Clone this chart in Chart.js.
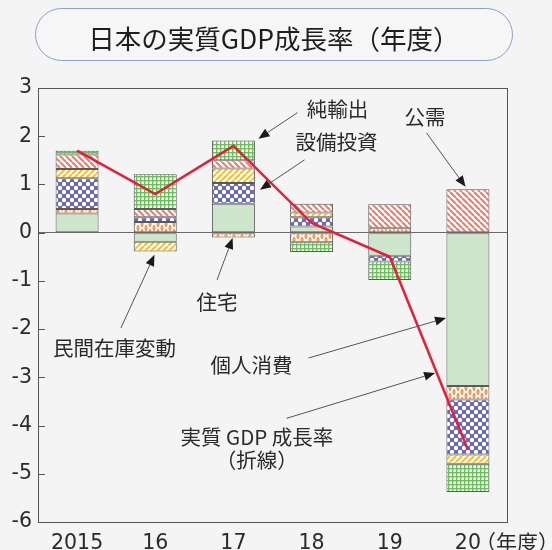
<!DOCTYPE html>
<html lang="ja">
<head>
<meta charset="utf-8">
<script src="https://cdn.jsdelivr.net/npm/chart.js@4/dist/chart.umd.min.js"></script>
<style>
    html, body { margin: 0; padding: 0; background: #f4f4f4; }
    #wrap { position: relative; width: 552px; height: 550px; overflow: hidden; }
    #title {
        position: absolute; left: 35px; top: 8px; width: 478px; height: 53px;
        box-sizing: border-box; border: 1.5px solid #8aa0c8; border-radius: 27px;
        background: #f6f6f6; color: #1e1e1e;
        font: 26.5px "Noto Sans CJK JP", sans-serif;
        display: flex; align-items: center; justify-content: center; padding-top: 5px;
    }
    canvas { position: absolute; left: 0; top: 0; }
</style>
</head>
<body>
<div id="wrap">
    <canvas id="gdpChart" width="552" height="550"></canvas>
    <div id="title">日本の実質GDP成長率（年度）</div>
</div>
<script>
// Fiscal years and contributions (percentage points)
const years = ['2015', '16', '17', '18', '19', '20'];
const consumption  = [0.40, -0.19, 0.60, 0.13, -0.48, -3.18];  // 個人消費
const housing      = [0.09, 0.22, -0.10, -0.20, 0.09, -0.28];  // 住宅
const capex        = [0.64, 0.10, 0.43, 0.19, -0.12, -1.14];   // 設備投資
const inventory    = [0.19, -0.20, 0.30, 0.10, null, -0.19];   // 民間在庫変動
const publicDemand = [0.30, 0.17, 0.17, 0.18, 0.50, 0.90];     // 公需
const netExports   = [0.08, 0.72, 0.41, -0.20, -0.38, -0.59];  // 純輸出
const gdpGrowth    = [1.7, 0.8, 1.8, 0.2, -0.5, -4.5];         // 実質GDP成長率
const yTicks = [3, 2, 1, 0, -1, -2, -3, -4, -5, -6];

// Callout labels, placed in data units (category index, value)
const callouts = [
    { lines: ['純輸出'], at: [3.33, 2.55], from: [2.82, 2.49], to: [2.32, 1.95] },
    { lines: ['設備投資'], at: [3.32, 1.87], from: [2.91, 1.51], to: [2.34, 0.89] },
    { lines: ['公需'], at: [4.45, 2.40], from: [4.47, 2.07], to: [4.97, 0.95] },
    { lines: ['住宅'], at: [1.79, -1.44], from: [1.79, -0.98], to: [1.99, -0.11] },
    { lines: ['民間在庫変動'], at: [0.48, -2.39], from: [0.56, -1.98], to: [0.99, -0.46] },
    { lines: ['個人消費'], at: [2.23, -2.75], from: [2.96, -2.60], to: [4.72, -1.77] },
    { lines: ['実質 GDP 成長率', '（折線）'], at: [2.30, -4.24], from: [2.68, -3.85], to: [4.58, -2.91] }
];

function makeTile(w, h, draw) {
    const c = document.createElement('canvas');
    c.width = w;
    c.height = h;
    const g = c.getContext('2d');
    g.fillStyle = '#ffffff';
    g.fillRect(0, 0, w, h);
    draw(g);
    return document.getElementById('gdpChart').getContext('2d').createPattern(c, 'repeat');
}

function stripes(color, rising) {
    return makeTile(6, 6, g => {
        g.strokeStyle = color;
        g.lineWidth = 2;
        for (let k = -6; k <= 6; k += 6) {
            g.beginPath();
            if (rising) {
                g.moveTo(k, 6); g.lineTo(k + 6, 0);
            } else {
                g.moveTo(k, 0); g.lineTo(k + 6, 6);
            }
            g.stroke();
        }
    });
}

const gridPattern = makeTile(4, 4, g => {
    g.fillStyle = '#6cbf5c';
    g.fillRect(0, 0, 4, 1.4);
    g.fillRect(0, 0, 1.4, 4);
});

const circlePattern = makeTile(8, 8, g => {
    g.fillStyle = '#6565b0';
    g.fillRect(0, 0, 8, 8);
    g.fillStyle = '#ffffff';
    [[0, 0], [8, 0], [0, 8], [8, 8], [4, 4]].forEach(p => {
        g.beginPath();
        g.arc(p[0], p[1], 2.2, 0, Math.PI * 2);
        g.fill();
    });
});

const trianglePattern = makeTile(8, 8, g => {
    g.fillStyle = '#f0873a';
    const tri = (x, y, up) => {
        g.beginPath();
        if (up) {
            g.moveTo(x, y + 3.8); g.lineTo(x + 1.9, y + 0.2); g.lineTo(x + 3.8, y + 3.8);
        } else {
            g.moveTo(x, y + 0.2); g.lineTo(x + 3.8, y + 0.2); g.lineTo(x + 1.9, y + 3.8);
        }
        g.closePath();
        g.fill();
    };
    tri(0.1, 0, true); tri(4.1, 0, false);
    tri(0.1, 4, false); tri(4.1, 4, true);
});

function barSet(label, data, fill) {
    return {
        type: 'bar',
        label: label,
        data: data,
        backgroundColor: fill,
        borderColor: '#5a5a5a',
        borderWidth: 1,
        borderSkipped: false,
        barPercentage: 0.55,
        categoryPercentage: 1,
        order: 1
    };
}

const frameAndCallouts = {
    id: 'frameAndCallouts',
    afterDatasetsDraw(chart) {
        const ctx = chart.ctx;
        const area = chart.chartArea;
        const xs = chart.scales.x;
        const ys = chart.scales.y;
        const px = p => [xs.getPixelForValue(p[0]), ys.getPixelForValue(p[1])];

        ctx.save();
        // plot frame and inward ticks
        ctx.strokeStyle = '#555';
        ctx.lineWidth = 1;
        ctx.strokeRect(Math.round(area.left) + 0.5, Math.round(area.top) + 0.5,
            Math.round(area.width), Math.round(area.height));
        yTicks.forEach(v => {
            const y = Math.round(ys.getPixelForValue(v)) + 0.5;
            ctx.beginPath();
            ctx.moveTo(area.left, y);
            ctx.lineTo(area.left + 7, y);
            ctx.stroke();
        });

        // callouts
        ctx.font = '20.5px "Noto Sans CJK JP", sans-serif';
        ctx.fillStyle = '#2a2a2a';
        ctx.textAlign = 'center';
        ctx.textBaseline = 'middle';
        callouts.forEach(c => {
            const t = px(c.at);
            c.lines.forEach((line, i) => ctx.fillText(line, t[0], t[1] + i * 23));

            const a = px(c.from);
            const b = px(c.to);
            const ang = Math.atan2(b[1] - a[1], b[0] - a[0]);
            const headLen = 11;
            const bx = b[0] - Math.cos(ang) * headLen;
            const by = b[1] - Math.sin(ang) * headLen;
            ctx.strokeStyle = '#555';
            ctx.lineWidth = 1;
            ctx.beginPath();
            ctx.moveTo(a[0], a[1]);
            ctx.lineTo(bx, by);
            ctx.stroke();
            ctx.fillStyle = '#1a1a1a';
            ctx.beginPath();
            ctx.moveTo(b[0], b[1]);
            ctx.lineTo(bx + Math.sin(ang) * 4.5, by - Math.cos(ang) * 4.5);
            ctx.lineTo(bx - Math.sin(ang) * 4.5, by + Math.cos(ang) * 4.5);
            ctx.closePath();
            ctx.fill();
            ctx.fillStyle = '#2a2a2a';
        });

        // unit after the last year label
        ctx.font = '21px "Noto Sans CJK JP", sans-serif';
        ctx.textAlign = 'left';
        ctx.fillText('（年度）', xs.getPixelForValue(years.length - 1) + 7, area.bottom + 20);
        ctx.restore();
    }
};

new Chart(document.getElementById('gdpChart'), {
    data: {
        labels: years,
        datasets: [
            barSet('個人消費', consumption, '#cde6cb'),
            barSet('住宅', housing, trianglePattern),
            barSet('設備投資', capex, circlePattern),
            barSet('民間在庫変動', inventory, stripes('#f5bd32', true)),
            barSet('公需', publicDemand, stripes('#ef7a68', false)),
            barSet('純輸出', netExports, gridPattern),
            {
                type: 'line',
                label: '実質GDP成長率',
                data: gdpGrowth,
                stack: 'gdp',
                borderColor: '#e41f3c',
                borderWidth: 2.5,
                pointRadius: 0,
                tension: 0,
                fill: false,
                order: 0
            }
        ]
    },
    options: {
        responsive: false,
        animation: false,
        layout: {
            padding: { top: 88, right: 45, bottom: 0, left: 0 }
        },
        plugins: {
            legend: { display: false },
            tooltip: { enabled: false }
        },
        scales: {
            x: {
                stacked: true,
                grid: { display: false, drawTicks: false },
                border: { display: false },
                ticks: {
                    padding: 9,
                    color: '#2a2a2a',
                    font: { family: 'DejaVu Sans', size: 20.5 }
                },
                afterFit: scale => { scale.height = 28; }
            },
            y: {
                stacked: true,
                min: -6,
                max: 3,
                grid: {
                    drawTicks: false,
                    color: c => (c.tick && c.tick.value === 0 ? '#6a6a6a' : 'transparent')
                },
                border: { display: false },
                ticks: {
                    stepSize: 1,
                    padding: 6,
                    color: '#2a2a2a',
                    font: { family: 'DejaVu Sans', size: 20.5 }
                },
                afterFit: scale => { scale.width = 38; }
            }
        }
    },
    plugins: [frameAndCallouts]
});
</script>
</body>
</html>
